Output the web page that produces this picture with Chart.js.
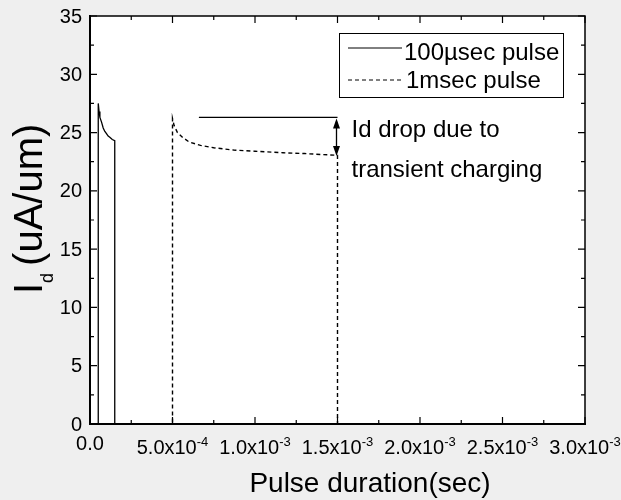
<!DOCTYPE html>
<html>
<head>
<meta charset="utf-8">
<script src="https://cdn.jsdelivr.net/npm/chart.js@4.4.1/dist/chart.umd.min.js"></script>
<style>
  body { margin: 0; background: #efefef; }
</style>
</head>
<body>
<canvas id="myChart" width="621" height="500"></canvas>
<script>
'use strict'

// 100 usec pulse (time in sec, Id in uA/um)
var shortTime = [0, 5.0e-5, 5.0e-5, 5.5e-5, 6.0e-5, 7.0e-5, 8.0e-5, 9.0e-5, 1.0e-4, 1.1e-4, 1.2e-4, 1.35e-4, 1.5e-4, 1.5e-4, 1.0e-3];
var shortId   = [0, 0, 27.5, 26.8, 26.3, 25.9, 25.4, 25.1, 24.9, 24.7, 24.6, 24.4, 24.3, 0, 0];

// 1 msec pulse
var longTime = [0, 5.0e-4, 5.0e-4, 5.1e-4, 5.3e-4, 5.6e-4, 6.0e-4, 6.7e-4, 7.5e-4, 8.7e-4, 1.0e-3, 1.17e-3, 1.3e-3, 1.4e-3, 1.5e-3, 1.5e-3, 2.0e-3];
var longId   = [0, 0, 26.2, 25.6, 25.0, 24.6, 24.2, 23.9, 23.7, 23.5, 23.4, 23.27, 23.2, 23.12, 23.05, 0, 0];

// ticks
var xTicks = [0, 5.0e-4, 1.0e-3, 1.5e-3, 2.0e-3, 2.5e-3, 3.0e-3];
var xTickBase = ['0.0', '5.0x10', '1.0x10', '1.5x10', '2.0x10', '2.5x10', '3.0x10'];
var xTickExp = ['', '-4', '-3', '-3', '-3', '-3', '-3'];
var yTicks = [0, 5, 10, 15, 20, 25, 30, 35];

// annotation: Id drop
var dropLineX = [6.6e-4, 1.5e-3];
var dropTop = 26.3;
var dropBottom = 23.0;

function pts(t, v) {
  return t.map(function(x, i) { return {x: x, y: v[i]}; });
}

Chart.defaults.font.family = '"Liberation Sans", Arial, sans-serif';

var decor = {
  id: 'decor',
  beforeDraw: function(chart) {
    var c = chart.ctx, a = chart.chartArea;
    c.save();
    c.fillStyle = '#efefef';
    c.fillRect(0, 0, chart.width, chart.height);
    c.fillStyle = '#ffffff';
    c.fillRect(a.left, a.top, a.right - a.left, a.bottom - a.top);
    c.restore();
  },
  afterDraw: function(chart) {
    var c = chart.ctx, a = chart.chartArea;
    var xs = chart.scales.x, ys = chart.scales.y;
    var i, p, len;
    c.save();
    c.strokeStyle = '#000';
    c.fillStyle = '#000';

    // top and right frame
    c.lineWidth = 1.5;
    c.beginPath();
    c.moveTo(a.left, a.top);
    c.lineTo(a.right, a.top);
    c.lineTo(a.right, a.bottom);
    c.stroke();

    // inward ticks, all four sides
    c.lineWidth = 1.2;
    c.beginPath();
    for (i = 0; i <= 12; i++) {
      p = xs.getPixelForValue(i * 2.5e-4);
      len = i % 2 === 0 ? 7 : 4;
      c.moveTo(p, a.bottom); c.lineTo(p, a.bottom - len);
      c.moveTo(p, a.top); c.lineTo(p, a.top + len);
    }
    for (i = 0; i <= 14; i++) {
      p = ys.getPixelForValue(i * 2.5);
      len = i % 2 === 0 ? 7 : 4;
      c.moveTo(a.left, p); c.lineTo(a.left + len, p);
      c.moveTo(a.right, p); c.lineTo(a.right - len, p);
    }
    c.stroke();

    // y tick labels
    c.font = '20px "Liberation Sans", Arial';
    c.textAlign = 'right';
    c.textBaseline = 'middle';
    yTicks.forEach(function(v) {
      c.fillText(String(v), a.left - 8, ys.getPixelForValue(v) + 1);
    });

    // x tick labels with superscript
    c.textAlign = 'left';
    c.textBaseline = 'alphabetic';
    xTicks.forEach(function(v, k) {
      var px = xs.getPixelForValue(v);
      c.font = '20px "Liberation Sans", Arial';
      var wb = c.measureText(xTickBase[k]).width;
      c.font = '13px "Liberation Sans", Arial';
      var we = xTickExp[k] ? c.measureText(xTickExp[k]).width : 0;
      var x0 = px - (wb + we) / 2;
      c.font = '20px "Liberation Sans", Arial';
      c.fillText(xTickBase[k], x0, xTickExp[k] ? 454 : 450);
      if (xTickExp[k]) {
        c.font = '13px "Liberation Sans", Arial';
        c.fillText(xTickExp[k], x0 + wb, 446);
      }
    });

    // x title
    c.font = '28px "Liberation Sans", Arial';
    c.textAlign = 'center';
    c.fillText('Pulse duration(sec)', 370, 492);

    // y title, rotated
    c.save();
    c.translate(42, 294);
    c.rotate(-Math.PI / 2);
    c.textAlign = 'left';
    c.font = '40px "Liberation Sans", Arial';
    c.fillText('I', 0, 0);
    var off = c.measureText('I').width;
    c.font = '18px "Liberation Sans", Arial';
    c.fillText('d', off, 11);
    off += c.measureText('d').width + 7;
    c.font = '40px "Liberation Sans", Arial';
    c.fillText('(uA/um)', off, 0);
    c.restore();

    // legend
    c.lineWidth = 1;
    c.strokeRect(339.5, 33.5, 224, 64);
    c.beginPath();
    c.moveTo(348, 48); c.lineTo(402, 48);
    c.stroke();
    c.setLineDash([4, 3]);
    c.beginPath();
    c.moveTo(348, 80); c.lineTo(402, 80);
    c.stroke();
    c.setLineDash([]);
    c.font = '24px "Liberation Sans", Arial';
    c.textAlign = 'left';
    c.fillText('100\u00b5sec pulse', 404, 60);
    c.fillText('1msec pulse', 406, 88);

    // drop annotation
    var lx0 = xs.getPixelForValue(dropLineX[0]);
    var lx1 = xs.getPixelForValue(dropLineX[1]);
    var yt = ys.getPixelForValue(dropTop);
    var yb = ys.getPixelForValue(dropBottom);
    var ax = lx1 - 1;
    c.lineWidth = 1.3;
    c.beginPath();
    c.moveTo(lx0, yt); c.lineTo(lx1, yt);
    c.moveTo(ax, yt + 4); c.lineTo(ax, yb - 4);
    c.stroke();
    c.beginPath();
    c.moveTo(ax, yt + 1); c.lineTo(ax - 3.5, yt + 11); c.lineTo(ax + 3.5, yt + 11); c.closePath();
    c.moveTo(ax, yb); c.lineTo(ax - 3.5, yb - 10); c.lineTo(ax + 3.5, yb - 10); c.closePath();
    c.fill();
    c.font = '24px "Liberation Sans", Arial';
    c.fillText('Id drop due to', lx1 + 14, 137);
    c.fillText('transient charging', lx1 + 14, 177);

    c.restore();
  }
};

var ctx = document.getElementById("myChart");

var idchart = new Chart(ctx, {
  type: 'line',
  data: {
    datasets: [{
      label: '100\u00b5sec pulse',
      data: pts(shortTime, shortId),
      borderColor: '#000',
      borderWidth: 1.3,
      pointRadius: 0,
      fill: false
    },
    {
      label: '1msec pulse',
      data: pts(longTime, longId),
      borderColor: '#000',
      borderWidth: 1.4,
      borderDash: [4, 3],
      pointRadius: 0,
      fill: false
    }]
  },
  options: {
    responsive: false,
    animation: false,
    layout: { padding: { top: 16, right: 36, left: 0, bottom: 0 } },
    plugins: {
      legend: { display: false },
      tooltip: { enabled: false }
    },
    scales: {
      x: {
        type: 'linear',
        min: 0,
        max: 3.0e-3,
        ticks: { display: false, stepSize: 5.0e-4 },
        grid: { display: false },
        border: { display: true, color: '#000', width: 2 },
        afterFit: function(s) { s.height = 76; }
      },
      y: {
        min: 0,
        max: 35,
        ticks: { display: false, stepSize: 5 },
        grid: { display: false },
        border: { display: true, color: '#000', width: 2 },
        afterFit: function(s) { s.width = 90; }
      }
    }
  },
  plugins: [decor]
});
</script>
</body>
</html>
